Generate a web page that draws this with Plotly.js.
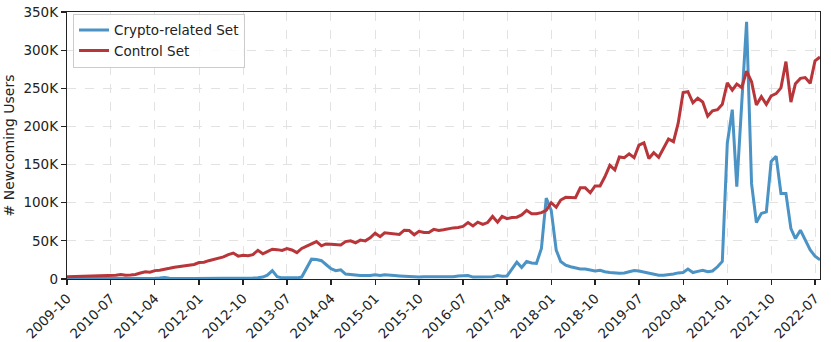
<!DOCTYPE html>
<html>
<head>
<meta charset="utf-8">
<script src="https://cdn.plot.ly/plotly-3.0.1.min.js"></script>
<style>
  html, body { margin: 0; padding: 0; background: #fff; }
  #chart { width: 831px; height: 342px; }
</style>
</head>
<body>
<div id="chart"></div>
<script>
// monthly series, first month 2009-10, last month 2022-08 (values in thousands)
const startYear = 2009;
const startMonth = 10;

const cryptoSet = [
  0.5, 0.4, 0.5, 0.6, 0.5, 0.6, 0.5, 0.6, 0.5, 0.6,
  0.7, 0.6, 0.5, 0.6, 0.7, 0.6, 0.7, 0.8, 0.9, 1.2,
  1.8, 1.0, 0.7, 0.6, 0.6, 0.5, 0.6, 0.6, 0.5, 0.6,
  0.6, 0.7, 0.6, 0.7, 0.8, 0.8, 0.9, 1.0, 1.2, 1.6,
  2.5, 5.0, 11.0, 3.0, 1.5, 1.5, 1.5, 1.5, 2.5, 14.0,
  26.0, 25.5, 24.0, 19.0, 13.5, 11.0, 12.0, 6.5, 5.5, 5.0,
  4.5, 4.5, 4.5, 5.5, 4.5, 5.5, 4.5, 4.5, 4.0, 3.5,
  3.0, 2.5, 2.5, 3.0, 3.0, 3.5, 3.5, 3.0, 3.0, 3.0,
  4.0, 4.0, 4.5, 2.5, 2.5, 2.5, 3.0, 3.0, 4.5, 3.5,
  4.0, 13.0, 22.0, 15.0, 23.0, 21.0, 20.5, 40.0, 106.0, 90.0,
  38.0, 23.0, 18.0, 16.0, 14.5, 13.0, 13.0, 11.5, 10.5, 11.5,
  9.5, 8.5, 7.5, 7.4, 8.0, 9.5, 11.0, 10.5, 9.0, 7.0,
  5.5, 5.0, 5.0, 5.5, 6.5, 8.0, 8.5, 13.0, 8.5, 10.0,
  11.5, 9.5, 10.5, 16.0, 23.0, 178.0, 222.0, 121.0, 230.0, 337.0,
  125.0, 74.0, 86.0, 88.0, 154.0, 161.0, 112.0, 112.0, 66.0, 53.0,
  64.0, 51.0, 38.0, 30.0, 25.0
];

const controlSet = [
  3.0, 3.2, 3.5, 3.8, 3.6, 4.2, 4.1, 4.0, 4.5, 4.8,
  5.0, 6.0, 4.8, 5.3, 6.0, 7.8, 9.5, 9.0, 11.0, 11.5,
  12.5, 14.0, 15.5, 16.5, 17.5, 18.0, 19.0, 21.5, 22.0, 24.0,
  26.0, 27.0, 29.0, 32.0, 34.0, 30.0, 31.0, 30.5, 32.0, 37.5,
  33.0, 36.0, 39.0, 38.5, 37.5, 40.0, 38.0, 34.5, 40.0, 43.0,
  46.0, 49.0, 43.5, 46.0, 45.5, 45.0, 44.5, 49.0, 50.0, 47.5,
  51.0, 50.0, 54.0, 60.0, 55.5, 60.5, 60.0, 59.5, 58.5, 64.0,
  63.5, 58.0, 62.5, 61.0, 61.0, 65.0, 63.5, 64.5, 66.0, 67.0,
  67.5, 69.0, 74.0, 69.5, 74.5, 71.5, 74.0, 82.0, 74.5, 82.0,
  79.0, 80.5, 81.0, 84.0, 90.0, 85.5, 85.5, 87.0, 90.0, 100.0,
  94.0, 103.5, 107.0, 107.0, 106.5, 119.5, 119.5, 113.0, 122.0, 122.0,
  134.0, 149.0, 143.0, 160.0, 159.0, 164.0, 159.0, 175.5, 178.5, 158.0,
  165.5, 159.5, 171.0, 183.5, 180.0, 204.0, 244.5, 245.5, 231.0, 237.0,
  232.0, 213.5, 220.5, 222.0, 229.0, 257.0, 247.5, 255.5, 251.0, 272.5,
  258.5, 228.0, 239.0, 229.0, 240.0, 243.0, 250.5, 285.0, 232.0, 256.0,
  263.0, 264.0, 256.5, 286.0, 291.0
];

const xTickLabels = [
  "2009-10", "2010-07", "2011-04", "2012-01", "2012-10", "2013-07",
  "2014-04", "2015-01", "2015-10", "2016-07", "2017-04", "2018-01",
  "2018-10", "2019-07", "2020-04", "2021-01", "2021-10", "2022-07"
];
const yTickVals = [0, 50000, 100000, 150000, 200000, 250000, 300000, 350000];
const yTickLabels = ["0", "50K", "100K", "150K", "200K", "250K", "300K", "350K"];

function monthDate(i) {
  const total = (startYear * 12 + startMonth - 1) + i;
  const y = Math.floor(total / 12);
  const m = total % 12 + 1;
  return y + "-" + String(m).padStart(2, "0") + "-01";
}

const months = cryptoSet.map((_, i) => monthDate(i));
const xTickVals = xTickLabels.map(t => t + "-01");

const traces = [
  {
    x: months,
    y: cryptoSet.map(v => v * 1000),
    type: "scatter",
    mode: "lines",
    name: "Crypto-related Set",
    line: {color: "#4a93c4", width: 3}
  },
  {
    x: months,
    y: controlSet.map(v => v * 1000),
    type: "scatter",
    mode: "lines",
    name: "Control Set",
    line: {color: "#b8363a", width: 3}
  }
];

const axisFont = {family: "DejaVu Sans, sans-serif", size: 13.5, color: "#222"};

Plotly.newPlot("chart", traces, {
  width: 831,
  height: 342,
  margin: {l: 67, r: 11, t: 12, b: 63},
  paper_bgcolor: "#fff",
  plot_bgcolor: "#fff",
  font: axisFont,
  showlegend: true,
  legend: {
    x: 0.008, y: 0.994, xanchor: "left", yanchor: "top",
    bgcolor: "rgba(255,255,255,0.85)",
    bordercolor: "#cccccc", borderwidth: 1,
    font: {family: "DejaVu Sans, sans-serif", size: 13.5, color: "#222"},
    tracegroupgap: 2
  },
  xaxis: {
    type: "date",
    range: [months[0], months[months.length - 1]],
    tickvals: xTickVals,
    ticktext: xTickLabels,
    tickangle: -45,
    ticks: "outside", ticklen: 5, tickwidth: 1.2, tickcolor: "#222",
    showgrid: true, gridcolor: "#e2e2e2", griddash: "dash", gridwidth: 1,
    showline: true, linecolor: "#222", linewidth: 1.3, mirror: true,
    zeroline: false,
    tickfont: axisFont
  },
  yaxis: {
    range: [0, 350000],
    tickvals: yTickVals,
    ticktext: yTickLabels,
    ticks: "outside", ticklen: 5, tickwidth: 1.2, tickcolor: "#222",
    showgrid: true, gridcolor: "#e2e2e2", griddash: "dash", gridwidth: 1,
    showline: true, linecolor: "#222", linewidth: 1.3, mirror: true,
    zeroline: false,
    tickfont: axisFont,
    title: {text: "# Newcoming Users", font: {family: "DejaVu Sans, sans-serif", size: 14, color: "#222"}, standoff: 5}
  }
}, {displayModeBar: false, staticPlot: true});
</script>
</body>
</html>
